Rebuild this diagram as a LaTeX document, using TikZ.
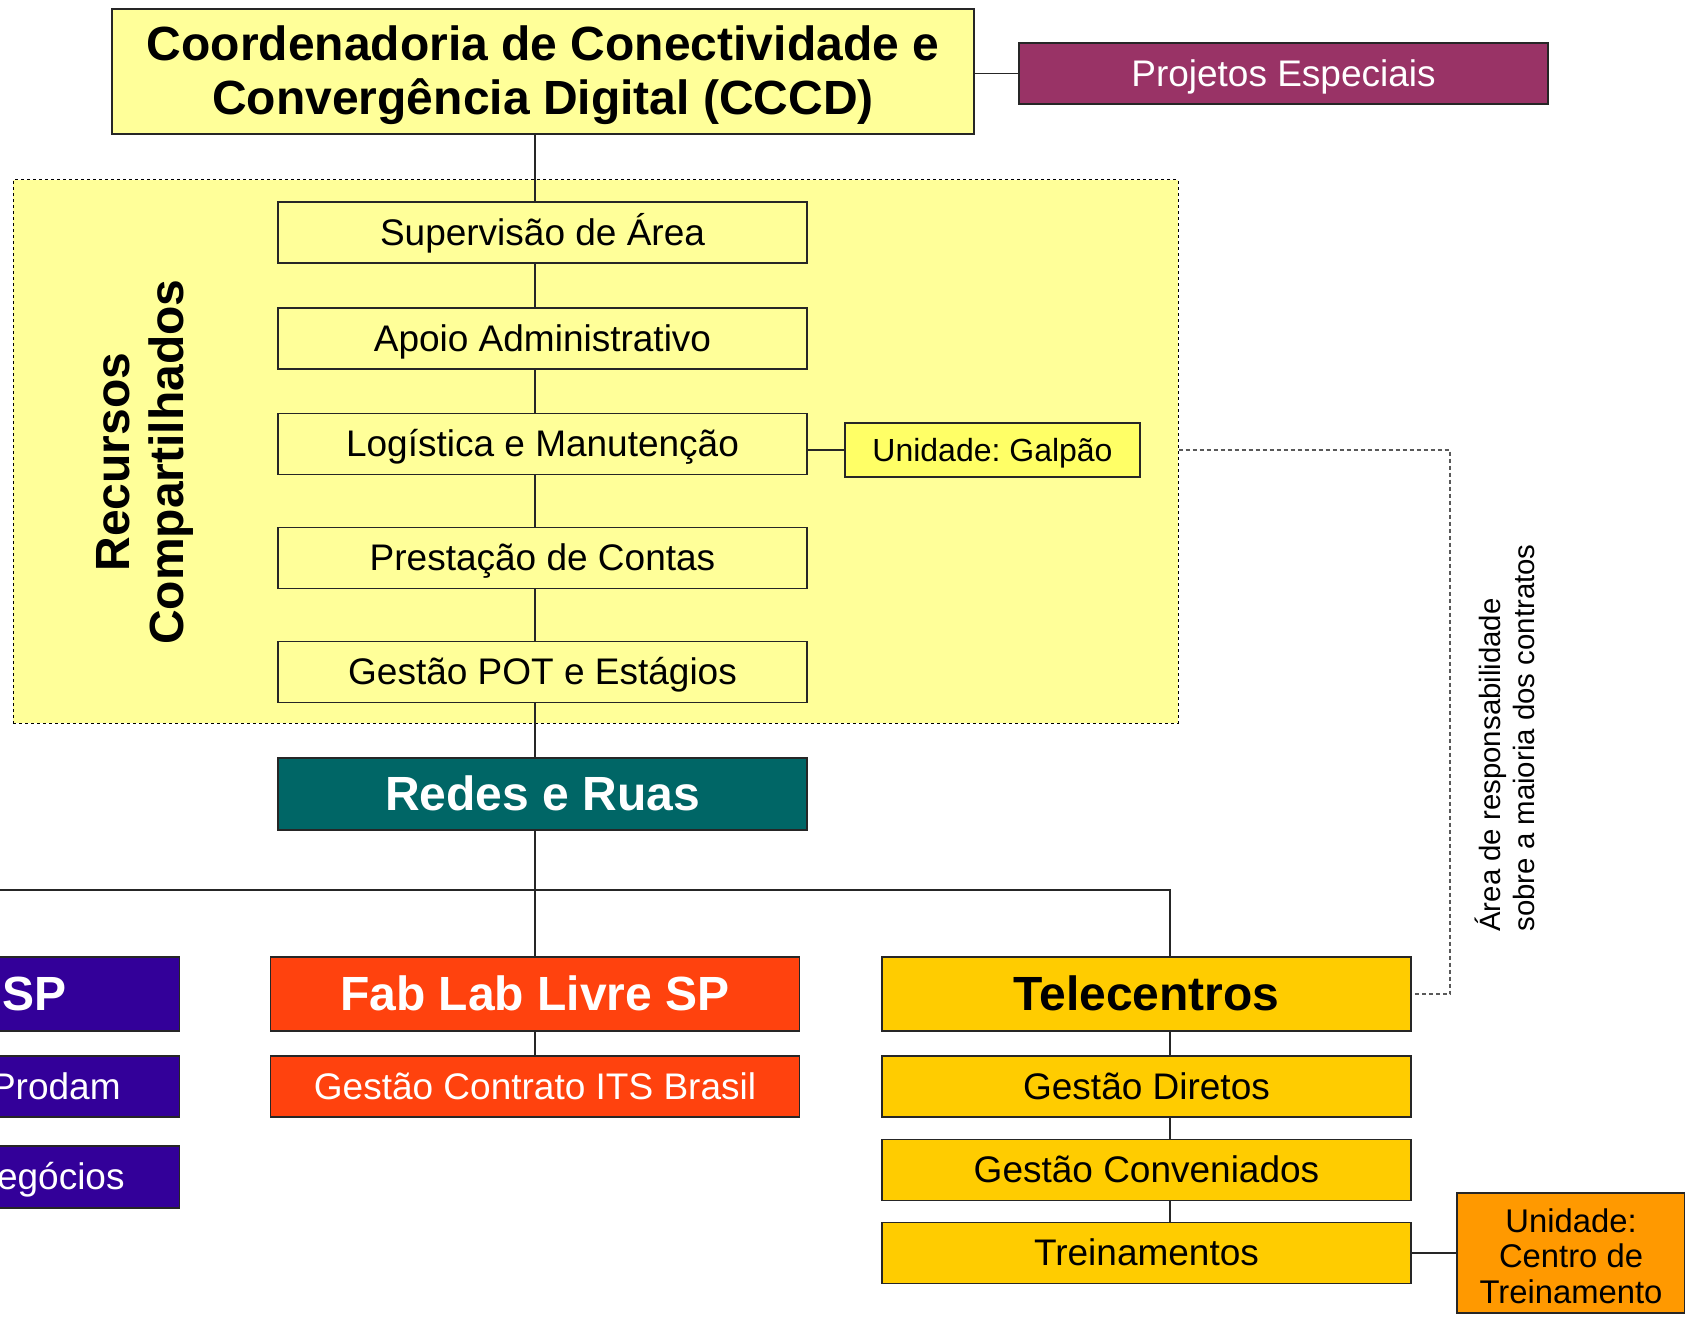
\documentclass[tikz,border=0pt]{standalone}
\usepackage{fontspec}
\setmainfont{Liberation Sans}
\definecolor{ylw}{HTML}{FFFF99}
\definecolor{ylwb}{HTML}{FFFF66}
\definecolor{maroon}{HTML}{993366}
\definecolor{teal}{HTML}{006666}
\definecolor{purp}{HTML}{330099}
\definecolor{fab}{HTML}{FF420E}
\definecolor{gold}{HTML}{FFCC00}
\definecolor{orng}{HTML}{FF9900}
\begin{document}
\frenchspacing
\begin{tikzpicture}[x=0.5pt,y=-0.5pt,
  frame/.style={draw=black!85,line width=0.6pt,inner sep=0pt,align=center},
  box/.style={frame,minimum width=264.5pt,minimum height=30.5pt,
    text height=16.74pt,text depth=3.92pt,font=\fontsize{18.5}{22}\selectfont},
  bigbox/.style={box,minimum height=37pt,text height=21.72pt,text depth=5.09pt,
    font=\fontsize{24}{28}\selectfont\bfseries},
  conn/.style={draw=black!85,line width=0.6pt},
  dconn/.style={draw=black!65,line width=0.6pt,dash pattern=on 2pt off 1.5pt}]
\useasboundingbox (0,0) rectangle (1685,1316);
\clip (0,0) rectangle (1685,1316);

% shared-resources region
\node[draw=black,line width=0.5pt,dash pattern=on 1.5pt off 1.5pt,fill=ylw,
  minimum width=582.5pt,minimum height=271.5pt,inner sep=0pt] (rc) at (595.5,451.5) {};
\node[rotate=90,align=center,font=\fontsize{24}{27}\selectfont\bfseries] (rctxt) at (145,462)
  {Recursos\\Compartilhados};

% boxes
\node[frame,fill=ylw,minimum width=431pt,minimum height=62.5pt] (cccd) at (543,71.5) {};
\node[align=center,inner sep=0pt,font=\fontsize{24}{27}\selectfont\bfseries] (cccdtxt) at (543,75.5)
  {Coordenadoria de Conectividade e\\Convergência Digital (CCCD)};
\node[box,fill=maroon,text=white] (proj) at (1283.5,73.5) {Projetos Especiais};

\node[box,fill=ylw] (sup) at (542.5,232.5) {Supervisão de Área};
\node[box,fill=ylw] (apoio) at (542.5,338.5) {Apoio Administrativo};
\node[box,fill=ylw] (log) at (542.5,444) {Logística e Manutenção};
\node[box,fill=ylw] (prest) at (542.5,558) {Prestação de Contas};
\node[box,fill=ylw] (pot) at (542.5,672) {Gestão POT e Estágios};
\node[box,fill=ylwb,minimum width=147.5pt,minimum height=27pt,text height=14.48pt,text depth=3.39pt,
  font=\fontsize{16}{19}\selectfont] (galpao) at (992.5,450) {Unidade: Galpão};

\node[bigbox,fill=teal,text=white,minimum height=36pt] (redes) at (542.5,794) {Redes e Ruas};

\node[bigbox,fill=purp] (sp) at (-85,994) {};
\node[box,fill=purp] (prodam) at (-85,1086.5) {};
\node[box,fill=purp,minimum height=31pt] (neg) at (-85,1177) {};
\node[anchor=east,inner sep=0pt,text=white,text height=21.72pt,text depth=5.09pt,
  font=\fontsize{24}{28}\selectfont\bfseries] (sptxt) at (67,994) {SP};
\node[anchor=east,inner sep=0pt,text=white,text height=16.74pt,text depth=3.92pt,
  font=\fontsize{18.5}{22}\selectfont] (prtxt) at (121,1087) {Prodam};
\node[anchor=east,inner sep=0pt,text=white,text height=16.74pt,text depth=3.92pt,
  font=\fontsize{18.5}{22}\selectfont] (ngtxt) at (125,1177) {egócios};

\node[bigbox,fill=fab,text=white] (fab) at (535,994) {Fab Lab Livre SP};
\node[box,fill=fab,text=white] (its) at (535,1086.5) {Gestão Contrato ITS Brasil};

\node[bigbox,fill=gold] (tele) at (1146.5,994) {Telecentros};
\node[box,fill=gold] (dir) at (1146.5,1086.5) {Gestão Diretos};
\node[box,fill=gold] (conv) at (1146.5,1170) {Gestão Conveniados};
\node[box,fill=gold] (trein) at (1146.5,1253) {Treinamentos};
\node[frame,fill=orng,minimum width=114pt,minimum height=60pt] (ctrein) at (1571,1253) {};
\node[align=center,inner sep=0pt,font=\fontsize{16.4}{17.7}\selectfont] (ctreintxt) at (1571,1256)
  {Unidade:\\Centro de\\Treinamento};

\node[rotate=90,align=left,inner sep=0pt,font=\fontsize{14.7}{16.7}\selectfont] (area) at (1505,738)
  {Área de responsabilidade\\sobre a maioria dos contratos};

% helper coordinates
\coordinate (bus) at (535,890);
\coordinate (tx) at (1170,0);
\coordinate (vx) at (1450,0);

% connectors
\draw[conn] (cccd.east |- proj.west) -- (proj.west);
\draw[conn] (fab.north |- cccd.south) -- (fab.north |- sup.north);
\draw[conn] (fab.north |- sup.south) -- (fab.north |- apoio.north);
\draw[conn] (fab.north |- apoio.south) -- (fab.north |- log.north);
\draw[conn] (fab.north |- log.south) -- (fab.north |- prest.north);
\draw[conn] (fab.north |- prest.south) -- (fab.north |- pot.north);
\draw[conn] (fab.north |- pot.south) -- (fab.north |- redes.north);
\draw[conn] (log.east |- galpao.west) -- (galpao.west);
\draw[conn] (fab.north |- redes.south) -- (fab.north);
\draw[conn] (sp.north) -- (sp.north |- bus) -- (tx |- bus) -- (tx |- tele.north);
\draw[conn] (sp.south) -- (prodam.north);
\draw[conn] (prodam.south) -- (neg.north);
\draw[conn] (fab.south) -- (its.north);
\draw[conn] (tx |- tele.south) -- (tx |- dir.north);
\draw[conn] (tx |- dir.south) -- (tx |- conv.north);
\draw[conn] (tx |- conv.south) -- (tx |- trein.north);
\draw[conn] (trein.east) -- (ctrein.west);
\draw[dconn] (rc.east |- galpao.west) -- (vx |- galpao.west) -- (vx |- tele.east) -- (tele.east);
\end{tikzpicture}
\end{document}
